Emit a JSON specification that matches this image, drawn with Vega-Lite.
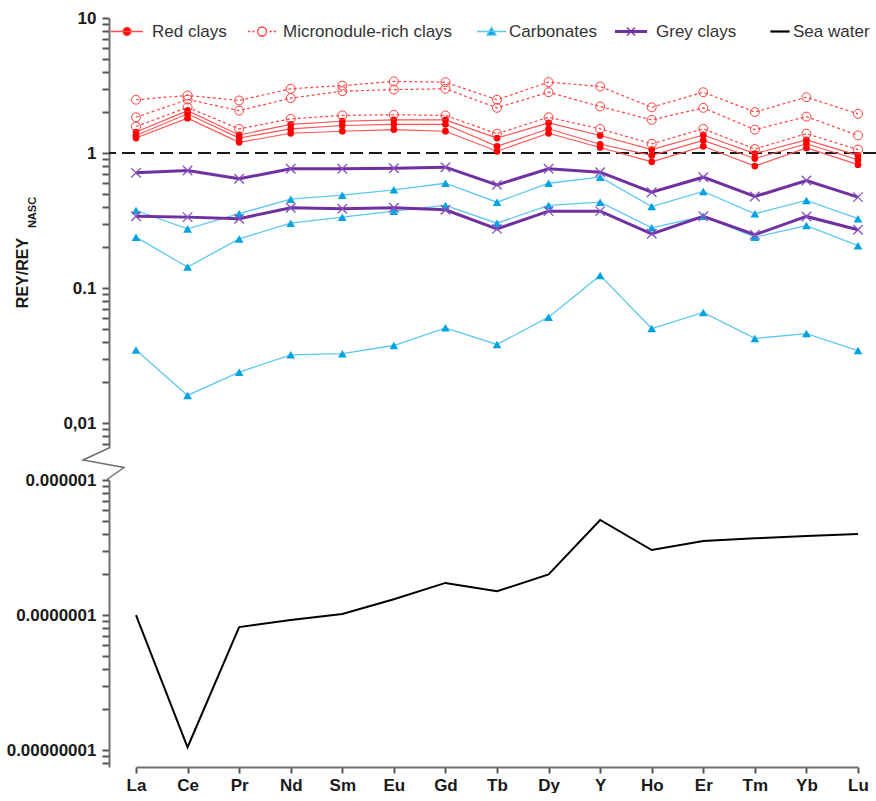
{
  "$schema": "https://vega.github.io/schema/vega-lite/v6.json",
  "background": "white",
  "padding": {"left": 6, "top": 9, "right": 0, "bottom": 0},
  "datasets": {
    "samples": [
      {"g": "Red clays", "s": "R1", "La": 1.43, "Ce": 2.06, "Pr": 1.36, "Nd": 1.63, "Sm": 1.72, "Eu": 1.76, "Gd": 1.76, "Tb": 1.29, "Dy": 1.67, "Y": 1.35, "Ho": 1.06, "Er": 1.36, "Tm": 0.99, "Yb": 1.25, "Lu": 0.96},
      {"g": "Red clays", "s": "R2", "La": 1.35, "Ce": 1.95, "Pr": 1.29, "Nd": 1.51, "Sm": 1.60, "Eu": 1.63, "Gd": 1.63, "Tb": 1.12, "Dy": 1.51, "Y": 1.16, "Ho": 0.96, "Er": 1.24, "Tm": 0.91, "Yb": 1.17, "Lu": 0.89},
      {"g": "Red clays", "s": "R3", "La": 1.29, "Ce": 1.81, "Pr": 1.20, "Nd": 1.40, "Sm": 1.45, "Eu": 1.49, "Gd": 1.45, "Tb": 1.03, "Dy": 1.40, "Y": 1.10, "Ho": 0.86, "Er": 1.12, "Tm": 0.80, "Yb": 1.09, "Lu": 0.82},
      {"g": "Micronodule-rich clays", "s": "M1", "La": 2.48, "Ce": 2.67, "Pr": 2.45, "Nd": 2.99, "Sm": 3.16, "Eu": 3.39, "Gd": 3.35, "Tb": 2.48, "Dy": 3.35, "Y": 3.11, "Ho": 2.18, "Er": 2.82, "Tm": 2.01, "Yb": 2.59, "Lu": 1.95},
      {"g": "Micronodule-rich clays", "s": "M2", "La": 1.84, "Ce": 2.49, "Pr": 2.06, "Nd": 2.55, "Sm": 2.87, "Eu": 2.95, "Gd": 2.99, "Tb": 2.16, "Dy": 2.82, "Y": 2.21, "Ho": 1.76, "Er": 2.16, "Tm": 1.49, "Yb": 1.86, "Lu": 1.35},
      {"g": "Micronodule-rich clays", "s": "M3", "La": 1.57, "Ce": 2.18, "Pr": 1.51, "Nd": 1.79, "Sm": 1.90, "Eu": 1.92, "Gd": 1.90, "Tb": 1.39, "Dy": 1.84, "Y": 1.51, "Ho": 1.17, "Er": 1.51, "Tm": 1.07, "Yb": 1.39, "Lu": 1.06},
      {"g": "Carbonates", "s": "C1", "La": 0.375, "Ce": 0.274, "Pr": 0.355, "Nd": 0.455, "Sm": 0.487, "Eu": 0.534, "Gd": 0.597, "Tb": 0.432, "Dy": 0.597, "Y": 0.662, "Ho": 0.401, "Er": 0.519, "Tm": 0.355, "Yb": 0.445, "Lu": 0.326},
      {"g": "Carbonates", "s": "C2", "La": 0.238, "Ce": 0.143, "Pr": 0.231, "Nd": 0.302, "Sm": 0.335, "Eu": 0.371, "Gd": 0.409, "Tb": 0.302, "Dy": 0.409, "Y": 0.432, "Ho": 0.279, "Er": 0.340, "Tm": 0.238, "Yb": 0.290, "Lu": 0.206},
      {"g": "Carbonates", "s": "C3", "La": 0.0348, "Ce": 0.0160, "Pr": 0.0238, "Nd": 0.0320, "Sm": 0.0326, "Eu": 0.0375, "Gd": 0.0507, "Tb": 0.0382, "Dy": 0.0608, "Y": 0.124, "Ho": 0.0501, "Er": 0.0659, "Tm": 0.0423, "Yb": 0.0460, "Lu": 0.0344},
      {"g": "Grey clays", "s": "G1", "La": 0.713, "Ce": 0.742, "Pr": 0.644, "Nd": 0.764, "Sm": 0.764, "Eu": 0.772, "Gd": 0.785, "Tb": 0.581, "Dy": 0.764, "Y": 0.721, "Ho": 0.512, "Er": 0.662, "Tm": 0.476, "Yb": 0.626, "Lu": 0.471},
      {"g": "Grey clays", "s": "G2", "La": 0.340, "Ce": 0.335, "Pr": 0.326, "Nd": 0.393, "Sm": 0.386, "Eu": 0.393, "Gd": 0.380, "Tb": 0.274, "Dy": 0.371, "Y": 0.371, "Ho": 0.252, "Er": 0.340, "Tm": 0.248, "Yb": 0.339, "Lu": 0.270}
    ],
    "seawater": [
      {"g": "Sea water", "s": "SW", "La": 1.0e-7, "Ce": 1.05e-8, "Pr": 8.15e-8, "Nd": 9.2e-8, "Sm": 1.02e-7, "Eu": 1.31e-7, "Gd": 1.73e-7, "Tb": 1.5e-7, "Dy": 2.0e-7, "Y": 5.06e-7, "Ho": 3.03e-7, "Er": 3.53e-7, "Tm": 3.7e-7, "Yb": 3.85e-7, "Lu": 3.98e-7}
    ],
    "axisBreak": [
      {"bx": 0, "by": 1},
      {"bx": -0.65, "by": 0.62},
      {"bx": 0.375, "by": 0.38},
      {"bx": -0.05, "by": 0}
    ]
  },
  "spacing": 0,
  "bounds": "flush",
  "resolve": {"scale": {"x": "independent", "y": "independent"}},
  "vconcat": [
    {
      "width": 767,
      "height": 430,
      "data": {"name": "samples"},
      "transform": [
        {"fold": ["La", "Ce", "Pr", "Nd", "Sm", "Eu", "Gd", "Tb", "Dy", "Y", "Ho", "Er", "Tm", "Yb", "Lu"], "as": ["el", "v"]}
      ],
      "encoding": {
        "y": {
          "field": "v",
          "type": "quantitative",
          "scale": {"type": "log", "domain": [0.00653, 10], "nice": false},
          "axis": {
            "values": [0.007, 0.008, 0.009, 0.01, 0.02, 0.03, 0.04, 0.05, 0.06, 0.07, 0.08, 0.09, 0.1, 0.2, 0.3, 0.4, 0.5, 0.6, 0.7, 0.8, 0.9, 1, 2, 3, 4, 5, 6, 7, 8, 9, 10],
            "labelExpr": "datum.value == 10 ? '10' : datum.value == 1 ? '1' : datum.value == 0.1 ? '0.1' : datum.value == 0.01 ? '0,01' : ''",
            "labelOverlap": false,
            "title": "REY/REY",
            "titleX": -82,
            "titleY": 254.5,
            "titleAngle": 270,
            "titleAlign": "center",
            "titleBaseline": "alphabetic",
            "titleFontSize": 16,
            "titleFontWeight": "bold"
          }
        }
      },
      "layer": [
        {
          "data": {"values": [{"v": 1}]},
          "mark": {"type": "rule", "stroke": "#1a1a1a", "strokeWidth": 2, "strokeDash": [13, 6]},
          "encoding": {}
        },
        {
          "transform": [{"filter": "datum.g === 'Carbonates'"}],
          "mark": {"type": "line", "color": "#5CC8F0", "strokeWidth": 1.3},
          "encoding": {
            "x": {"field": "el", "type": "nominal", "sort": ["La", "Ce", "Pr", "Nd", "Sm", "Eu", "Gd", "Tb", "Dy", "Y", "Ho", "Er", "Tm", "Yb", "Lu"], "scale": {"type": "point", "padding": 0, "range": [27, 749]}, "axis": null},
            "detail": {"field": "s", "type": "nominal"}
          }
        },
        {
          "transform": [{"filter": "datum.g === 'Red clays'"}],
          "mark": {"type": "line", "color": "#FF5252", "strokeWidth": 1.1},
          "encoding": {
            "x": {"field": "el", "type": "nominal", "sort": ["La", "Ce", "Pr", "Nd", "Sm", "Eu", "Gd", "Tb", "Dy", "Y", "Ho", "Er", "Tm", "Yb", "Lu"], "scale": {"type": "point", "padding": 0, "range": [27, 749]}, "axis": null},
            "detail": {"field": "s", "type": "nominal"}
          }
        },
        {
          "transform": [{"filter": "datum.g === 'Micronodule-rich clays'"}],
          "mark": {"type": "line", "color": "#FF4545", "strokeWidth": 1.2, "strokeDash": [3, 2.5]},
          "encoding": {
            "x": {"field": "el", "type": "nominal", "sort": ["La", "Ce", "Pr", "Nd", "Sm", "Eu", "Gd", "Tb", "Dy", "Y", "Ho", "Er", "Tm", "Yb", "Lu"], "scale": {"type": "point", "padding": 0, "range": [27, 749]}, "axis": null},
            "detail": {"field": "s", "type": "nominal"}
          }
        },
        {
          "transform": [{"filter": "datum.g === 'Grey clays'"}],
          "mark": {"type": "line", "color": "#7030A0", "strokeWidth": 3},
          "encoding": {
            "x": {"field": "el", "type": "nominal", "sort": ["La", "Ce", "Pr", "Nd", "Sm", "Eu", "Gd", "Tb", "Dy", "Y", "Ho", "Er", "Tm", "Yb", "Lu"], "scale": {"type": "point", "padding": 0, "range": [27, 749]}, "axis": null},
            "detail": {"field": "s", "type": "nominal"}
          }
        },
        {
          "transform": [{"filter": "datum.g === 'Red clays'"}],
          "mark": {"type": "point", "shape": "circle", "filled": true, "color": "#FF0000", "size": 45, "opacity": 1},
          "encoding": {
            "x": {"field": "el", "type": "nominal", "sort": ["La", "Ce", "Pr", "Nd", "Sm", "Eu", "Gd", "Tb", "Dy", "Y", "Ho", "Er", "Tm", "Yb", "Lu"], "scale": {"type": "point", "padding": 0, "range": [27, 749]}, "axis": null}
          }
        },
        {
          "transform": [{"filter": "datum.g === 'Micronodule-rich clays'"}],
          "mark": {"type": "point", "shape": "circle", "filled": false, "color": "#FF3B3B", "size": 80, "strokeWidth": 1, "opacity": 1},
          "encoding": {
            "x": {"field": "el", "type": "nominal", "sort": ["La", "Ce", "Pr", "Nd", "Sm", "Eu", "Gd", "Tb", "Dy", "Y", "Ho", "Er", "Tm", "Yb", "Lu"], "scale": {"type": "point", "padding": 0, "range": [27, 749]}, "axis": null}
          }
        },
        {
          "transform": [{"filter": "datum.g === 'Carbonates'"}],
          "mark": {"type": "point", "shape": "triangle-up", "filled": true, "color": "#00A3E2", "size": 75, "opacity": 1},
          "encoding": {
            "x": {"field": "el", "type": "nominal", "sort": ["La", "Ce", "Pr", "Nd", "Sm", "Eu", "Gd", "Tb", "Dy", "Y", "Ho", "Er", "Tm", "Yb", "Lu"], "scale": {"type": "point", "padding": 0, "range": [27, 749]}, "axis": null}
          }
        },
        {
          "transform": [{"filter": "datum.g === 'Grey clays'"}],
          "mark": {"type": "point", "shape": "M-1,-1L1,1M-1,1L1,-1", "filled": false, "color": "#8650BF", "size": 90, "strokeWidth": 1.3, "opacity": 1},
          "encoding": {
            "x": {"field": "el", "type": "nominal", "sort": ["La", "Ce", "Pr", "Nd", "Sm", "Eu", "Gd", "Tb", "Dy", "Y", "Ho", "Er", "Tm", "Yb", "Lu"], "scale": {"type": "point", "padding": 0, "range": [27, 749]}, "axis": null}
          }
        },
        {
          "transform": [{"filter": "false"}],
          "mark": {"type": "point", "opacity": 1, "strokeWidth": 1.3},
          "encoding": {
            "x": {"field": "el", "type": "nominal", "sort": ["La", "Ce", "Pr", "Nd", "Sm", "Eu", "Gd", "Tb", "Dy", "Y", "Ho", "Er", "Tm", "Yb", "Lu"], "scale": {"type": "point", "padding": 0, "range": [27, 749]}, "axis": null},
            "shape": {
              "field": "g", "type": "nominal",
              "scale": {
                "domain": ["Red clays", "Micronodule-rich clays", "Carbonates", "Grey clays", "Sea water"],
                "range": [
                  "M-1.07,0H1.07M-0.27,0A0.27,0.27,0,1,1,0.27,0A0.27,0.27,0,1,1,-0.27,0Z",
                  "M-0.66,0H-0.51M-0.38,0H-0.23M0.77,0H0.92M1.05,0H1.2M-0.03,0A0.3,0.3,0,1,1,0.57,0A0.3,0.3,0,1,1,-0.03,0Z",
                  "M-0.47,0H1.47M0.2,0.24L0.5,-0.3L0.8,0.24Z",
                  "M-1.03,-0.05H1.03V0.05H-1.03ZM-0.27,-0.27L0.27,0.27M-0.27,0.27L0.27,-0.27",
                  "M0.2,-0.03H1.4V0.03H0.2Z"
                ]
              },
              "legend": {"title": null, "orient": "none", "legendX": 2, "legendY": -2.5, "direction": "horizontal", "padding": 0, "symbolSize": 900, "symbolStrokeWidth": 1.3, "symbolOpacity": 1, "labelFont": "Liberation Sans", "labelFontSize": 17, "labelColor": "#333333", "labelOffset": 9, "labelLimit": 0, "columnPadding": 15}
            },
            "fill": {
              "field": "g", "type": "nominal",
              "scale": {"domain": ["Red clays", "Micronodule-rich clays", "Carbonates", "Grey clays", "Sea water"], "range": ["#FF0000", "transparent", "#00A3E2", "#7030A0", "#000000"]},
              "legend": {"title": null, "orient": "none", "legendX": 2, "legendY": -2.5, "direction": "horizontal", "padding": 0, "symbolSize": 900, "symbolStrokeWidth": 1.3, "symbolOpacity": 1, "labelFont": "Liberation Sans", "labelFontSize": 17, "labelColor": "#333333", "labelOffset": 9, "labelLimit": 0, "columnPadding": 15}
            },
            "stroke": {
              "field": "g", "type": "nominal",
              "scale": {"domain": ["Red clays", "Micronodule-rich clays", "Carbonates", "Grey clays", "Sea water"], "range": ["#FF4A4A", "#FF4040", "#5CC8F0", "#7030A0", "#000000"]},
              "legend": {"title": null, "orient": "none", "legendX": 2, "legendY": -2.5, "direction": "horizontal", "padding": 0, "symbolSize": 900, "symbolStrokeWidth": 1.3, "symbolOpacity": 1, "labelFont": "Liberation Sans", "labelFontSize": 17, "labelColor": "#333333", "labelOffset": 9, "labelLimit": 0, "columnPadding": 15}
            }
          }
        }
      ]
    },
    {
      "width": 40,
      "height": 31.5,
      "data": {"name": "axisBreak"},
      "mark": {"type": "line", "color": "#707070", "strokeWidth": 1.5, "clip": false},
      "encoding": {
        "x": {"field": "bx", "type": "quantitative", "scale": {"domain": [0, 1], "nice": false, "zero": false}, "axis": null},
        "y": {"field": "by", "type": "quantitative", "scale": {"domain": [0, 1], "nice": false, "zero": false}, "axis": null},
        "order": {"field": "by", "sort": "descending"}
      }
    },
    {
      "width": 767,
      "height": 287,
      "data": {"name": "seawater"},
      "transform": [
        {"fold": ["La", "Ce", "Pr", "Nd", "Sm", "Eu", "Gd", "Tb", "Dy", "Y", "Ho", "Er", "Tm", "Yb", "Lu"], "as": ["el", "v"]}
      ],
      "mark": {"type": "line", "color": "#000000", "strokeWidth": 2},
      "encoding": {
        "x": {
          "field": "el", "type": "nominal",
          "sort": ["La", "Ce", "Pr", "Nd", "Sm", "Eu", "Gd", "Tb", "Dy", "Y", "Ho", "Er", "Tm", "Yb", "Lu"],
          "scale": {"type": "point", "padding": 0, "range": [27, 749]},
          "axis": {"title": null, "labelAngle": 0, "tickSize": 6, "labelPadding": 4}
        },
        "y": {
          "field": "v",
          "type": "quantitative",
          "scale": {"type": "log", "domain": [7.5e-9, 1e-6], "nice": false},
          "axis": {
            "values": [8e-9, 9e-9, 1e-8, 2e-8, 3e-8, 4e-8, 5e-8, 6e-8, 7e-8, 8e-8, 9e-8, 1e-7, 2e-7, 3e-7, 4e-7, 5e-7, 6e-7, 7e-7, 8e-7, 9e-7, 1e-6],
            "labelExpr": "datum.value == 0.000001 ? '0.000001' : datum.value == 0.0000001 ? '0.0000001' : datum.value == 0.00000001 ? '0.00000001' : ''",
            "labelOverlap": false,
            "title": "NASC",
            "titleX": -74,
            "titleY": -268,
            "titleAngle": 270,
            "titleAlign": "center",
            "titleBaseline": "alphabetic",
            "titleFontSize": 11,
            "titleFontWeight": "bold"
          }
        }
      }
    }
  ],
  "config": {
    "view": {"stroke": null},
    "font": "Liberation Sans",
    "axis": {
      "grid": false,
      "ticks": true,
      "domainColor": "#707070",
      "domainWidth": 2,
      "tickColor": "#555555",
      "tickWidth": 2,
      "labelFont": "Liberation Sans",
      "labelFontSize": 17,
      "labelFontWeight": "bold",
      "labelColor": "#1a1a1a",
      "titleFont": "Liberation Sans",
      "titleColor": "#1a1a1a"
    },
    "axisY": {"tickSize": 7, "labelPadding": 6}
  }
}
